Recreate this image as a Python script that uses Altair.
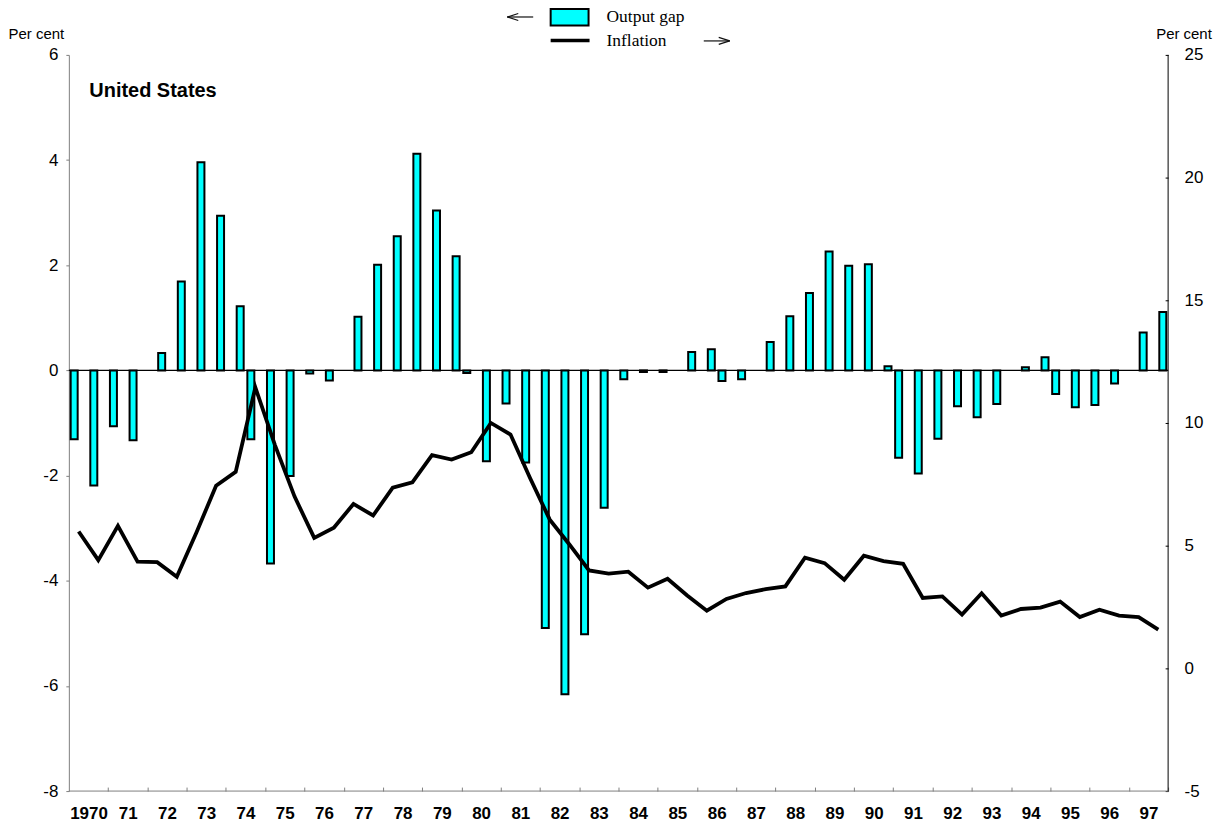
import altair as alt
import pandas as pd

# ---------------- data ----------------
year_labels = ["1970", "71", "72", "73", "74", "75", "76", "77", "78", "79",
               "80", "81", "82", "83", "84", "85", "86", "87", "88", "89",
               "90", "91", "92", "93", "94", "95", "96", "97"]

# half-yearly periods, 1970 H1 ... 1997 H2
periods = [f"{1970 + k // 2}-H{k % 2 + 1}" for k in range(2 * len(year_labels))]

output_gap = [
    -1.31, -2.19, -1.06, -1.33, 0.33, 1.69, 3.96, 2.94, 1.22, -1.31,
    -3.67, -2.01, -0.06, -0.19, 1.02, 2.01, 2.55, 4.12, 3.04, 2.17,
    -0.05, -1.73, -0.63, -1.75, -4.90, -6.16, -5.02, -2.61, -0.17, -0.03,
    -0.03, 0.35, 0.40, -0.20, -0.17, 0.54, 1.03, 1.47, 2.26, 1.99,
    2.02, 0.08, -1.66, -1.96, -1.30, -0.68, -0.89, -0.64, 0.06, 0.25,
    -0.45, -0.70, -0.66, -0.25, 0.72, 1.11,
]

inflation = [
    5.58, 4.41, 5.81, 4.35, 4.33, 3.73, 5.54, 7.44, 8.01, 11.45,
    9.10, 7.00, 5.32, 5.73, 6.70, 6.23, 7.36, 7.58, 8.69, 8.51,
    8.81, 10.00, 9.53, 7.75, 6.06, 5.05, 3.99, 3.86, 3.94, 3.29,
    3.65, 2.97, 2.35, 2.83, 3.07, 3.23, 3.34, 4.51, 4.29, 3.61,
    4.59, 4.37, 4.26, 2.87, 2.93, 2.19, 3.06, 2.15, 2.42, 2.48,
    2.72, 2.09, 2.39, 2.15, 2.09, 1.58,
]

left_ticks = [-8, -6, -4, -2, 0, 2, 4, 6]
right_ticks = [-5, 0, 5, 10, 15, 20, 25]
legend_gap = ["Output gap"]
legend_infl = ["Inflation"]
panel_title = ["United States"]
axis_unit = "Per cent"

# ---------------- layout ----------------
W, H = 1102, 738
STEP = W / len(periods)
FONT = "Liberation Sans"
SERIF = "Liberation Serif"
GRAY = "#808080"
CYAN = "#00FFFF"

df = pd.DataFrame({
    "idx": list(range(len(periods))),
    "period": periods,
    "gap": output_gap,
    "inflation": inflation,
})
one = pd.DataFrame({"k": [0]})

label_expr = "[" + ",".join(f"'{s}'" for s in year_labels) + "][(datum.value - 1) / 2]"

x_axis = alt.Axis(
    values=list(range(1, len(periods), 2)),
    tickOffset=STEP / 2,
    labelExpr=label_expr, labelOffset=-STEP, labelAngle=0,
    labelFont=FONT, labelFontSize=17, labelFontWeight="bold", labelColor="black",
    labelPadding=14, labelOverlap=False, labelFlush=False,
    tickSize=4, tickColor=GRAY, tickWidth=1, domain=False, offset=-4,
    title=None, grid=False,
)
x_enc = alt.X("idx:O", scale=alt.Scale(paddingInner=0, paddingOuter=0), axis=x_axis)

left_axis = alt.Axis(
    values=left_ticks, labelExpr="datum.value + ''",
    labelFont=FONT, labelFontSize=17, labelColor="black", labelPadding=8,
    tickSize=3, tickColor=GRAY, domainColor=GRAY, domainWidth=1, grid=False,
    title=axis_unit, titleAngle=0, titleX=-61, titleY=-16.5, titleAlign="left",
    titleBaseline="alphabetic", titleFont=FONT, titleFontSize=15,
    titleFontWeight="normal", titleColor="black",
)
right_axis = alt.Axis(
    orient="right", values=right_ticks, labelExpr="datum.value + ''",
    labelFont=FONT, labelFontSize=17, labelColor="black", labelPadding=16,
    tickSize=3, tickColor="black", domain=False, offset=-3, grid=False,
    title=axis_unit, titleAngle=0, titleX=-9.5, titleY=-16.5, titleAlign="left",
    titleBaseline="alphabetic", titleFont=FONT, titleFontSize=15,
    titleFontWeight="normal", titleColor="black",
)

bars = alt.Chart(df).transform_calculate(
    sign="datum.gap < 0 ? 'neg' : 'pos'"
).mark_bar(fill=CYAN, stroke="black", strokeWidth=2).encode(
    x=x_enc,
    xOffset=alt.XOffset("sign:N", scale=alt.Scale(domain=["neg", "pos"],
                                                  paddingInner=0.222, paddingOuter=0.204)),
    y=alt.Y("gap:Q", scale=alt.Scale(domain=[-8, 6], nice=False), axis=left_axis),
)
zero_line = alt.Chart(one).mark_rule(color="black", strokeWidth=1.2).encode(y=alt.datum(0))
left = alt.layer(bars, zero_line)

line = alt.Chart(df).mark_line(color="black", strokeWidth=3.8).encode(
    x=x_enc,
    y=alt.Y("inflation:Q", scale=alt.Scale(domain=[-5, 25], nice=False), axis=right_axis),
)

bottom_border = alt.Chart(one).mark_rule(color=GRAY, strokeWidth=1).encode(
    x=alt.value(0), x2=alt.value(W), y=alt.value(H))
right_border = alt.Chart(one).mark_rule(color="black", strokeWidth=1).encode(
    x=alt.value(W), y=alt.value(0), y2=alt.value(H))

# legend
leg_rect = alt.Chart(one).mark_rect(fill=CYAN, stroke="black", strokeWidth=2).encode(
    x=alt.value(483), x2=alt.value(521), y=alt.value(-46), y2=alt.value(-29.5))
leg_line = alt.Chart(one).mark_rule(color="black", strokeWidth=3.5).encode(
    x=alt.value(483), x2=alt.value(522), y=alt.value(-14.5))
leg_t1 = alt.Chart(pd.DataFrame({"label": legend_gap})).mark_text(
    align="left", baseline="alphabetic", font=SERIF, fontSize=17.5, color="black"
).encode(x=alt.value(539), y=alt.value(-32.5), text="label:N")
leg_t2 = alt.Chart(pd.DataFrame({"label": legend_infl})).mark_text(
    align="left", baseline="alphabetic", font=SERIF, fontSize=17.5, color="black"
).encode(x=alt.value(539), y=alt.value(-9), text="label:N")


def seg(x1, y1, x2, y2):
    return alt.Chart(one).mark_rule(color="#111111", strokeWidth=1.2).encode(
        x=alt.value(x1), y=alt.value(y1), x2=alt.value(x2), y2=alt.value(y2))


arrows = [
    seg(439.5, -38, 465.5, -38), seg(439.5, -38, 450.5, -41.5), seg(439.5, -38, 450.5, -34.5),
    seg(636.5, -14, 662.5, -14), seg(662.5, -14, 651.5, -17.5), seg(662.5, -14, 651.5, -10.5),
]

title = alt.Chart(pd.DataFrame({"label": panel_title})).mark_text(
    align="left", baseline="alphabetic", font=FONT, fontWeight="bold", fontSize=20, color="black"
).encode(x=alt.value(20.5), y=alt.value(42.5), text="label:N")

chart = alt.layer(
    left, line, bottom_border, right_border,
    leg_rect, leg_line, leg_t1, leg_t2, *arrows, title,
).resolve_scale(y="independent").properties(
    width=W, height=H,
    autosize=alt.AutoSizeParams(type="none"),
    padding={"left": 61, "top": 46, "right": 50, "bottom": 32},
).configure_view(stroke=None)

chart.save("out.html", embed_options={"renderer": "svg", "actions": False})
